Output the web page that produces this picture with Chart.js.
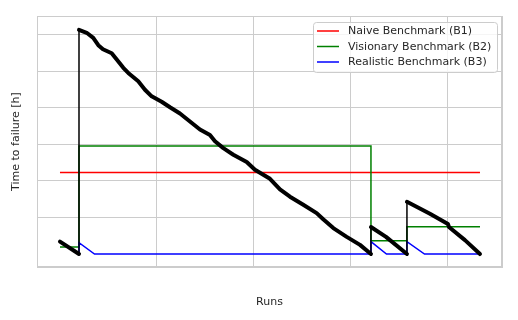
<!DOCTYPE html>
<html>
<head>
<meta charset="utf-8">
<script src="https://cdn.jsdelivr.net/npm/chart.js@4/dist/chart.umd.min.js"></script>
<style>
  html, body { margin: 0; padding: 0; background: #ffffff; }
  #wrap { width: 518px; height: 320px; }
</style>
</head>
<body>
<div id="wrap"><canvas id="c" width="518" height="320"></canvas></div>
<script>
// ---- data ----
const seriesNames = ['Naive Benchmark (B1)', 'Visionary Benchmark (B2)', 'Realistic Benchmark (B3)'];
const seriesColors = ['#ff0000', '#008000', '#0000ff'];

// actual time to failure (black sawtooth)
const ttfRuns = [0, 19.6, 19.6, 27.5, 34.3, 39.5, 44.3, 53.3, 58.5, 65.3, 70.4, 80.7, 87.6, 94.5, 104.8, 113.4, 123.7, 134.0, 144.3, 154.6, 159.8, 168.4, 178.7, 192.5, 201.0, 216.5, 226.8, 237.1, 250.8, 264.6, 271.4, 281.8, 295.6, 309.3, 320.6, 320.6, 336.1, 357.7, 357.7, 381.4, 400, 401, 417.5, 433];
const ttfHours = [0.34, 0, 6.14, 6.06, 5.92, 5.72, 5.61, 5.50, 5.33, 5.10, 4.96, 4.73, 4.50, 4.32, 4.17, 4.02, 3.85, 3.63, 3.41, 3.26, 3.09, 2.90, 2.72, 2.52, 2.31, 2.06, 1.77, 1.57, 1.35, 1.12, 0.95, 0.71, 0.47, 0.25, 0, 0.74, 0.47, 0, 1.43, 1.10, 0.82, 0.74, 0.38, 0];

// B1 naive
const b1Runs = [0, 433];
const b1Hours = [2.23, 2.23];

// B2 visionary
const b2Runs = [0, 19.6, 19.6, 320.6, 320.6, 357.7, 357.7, 433];
const b2Hours = [0.19, 0.19, 2.96, 2.96, 0.36, 0.36, 0.75, 0.75];

// B3 realistic
const b3Runs = [0, 19.6, 19.6, 35.6, 320.6, 320.6, 336.6, 357.7, 357.7, 375.8, 433];
const b3Hours = [0.34, 0, 0.31, 0, 0, 0.34, 0, 0, 0.34, 0, 0];

const xMin = -23.7, xMax = 455.7, xStep = 100;
const yMin = -0.356, yMax = 6.52, yStep = 1;

function pts(xs, ys) { return xs.map((x, i) => ({ x: x, y: ys[i] })); }

const FONT = '"DejaVu Sans", "Liberation Sans", sans-serif';
const TEXT = '#262626';
const GRID = '#cccccc';

const legendAndFrame = {
  id: 'legendAndFrame',
  afterDraw(chart) {
    const ctx = chart.ctx;
    const a = chart.chartArea;
    ctx.save();
    // frame
    ctx.strokeStyle = GRID;
    ctx.lineWidth = 1;
    ctx.strokeRect(Math.round(a.left) + 0.5, Math.round(a.top) + 0.5,
                   Math.round(a.right - a.left) - 1, Math.round(a.bottom - a.top) - 1);
    // legend box
    const bx = 313.5, by = 22.5, bw = 184, bh = 50, r = 3;
    ctx.beginPath();
    ctx.moveTo(bx + r, by);
    ctx.lineTo(bx + bw - r, by);
    ctx.quadraticCurveTo(bx + bw, by, bx + bw, by + r);
    ctx.lineTo(bx + bw, by + bh - r);
    ctx.quadraticCurveTo(bx + bw, by + bh, bx + bw - r, by + bh);
    ctx.lineTo(bx + r, by + bh);
    ctx.quadraticCurveTo(bx, by + bh, bx, by + bh - r);
    ctx.lineTo(bx, by + r);
    ctx.quadraticCurveTo(bx, by, bx + r, by);
    ctx.closePath();
    ctx.fillStyle = 'rgba(255,255,255,0.8)';
    ctx.fill();
    ctx.strokeStyle = GRID;
    ctx.lineWidth = 1;
    ctx.stroke();
    ctx.font = '11px ' + FONT;
    ctx.textBaseline = 'middle';
    ctx.textAlign = 'left';
    seriesNames.forEach((name, i) => {
      const y = 31 + i * 15.5;
      ctx.strokeStyle = seriesColors[i];
      ctx.lineWidth = 1.5;
      ctx.beginPath();
      ctx.moveTo(317, y);
      ctx.lineTo(339, y);
      ctx.stroke();
      ctx.fillStyle = TEXT;
      ctx.fillText(name, 348, y + 0.5);
    });
    ctx.restore();
  }
};

new Chart(document.getElementById('c'), {
  type: 'scatter',
  data: {
    datasets: [
      {
        label: 'Time to failure',
        data: pts(ttfRuns, ttfHours),
        showLine: true,
        borderColor: '#000000',
        backgroundColor: '#000000',
        borderWidth: 4,
        borderCapStyle: 'round',
        borderJoinStyle: 'round',
        pointRadius: 0,
        segment: {
          borderWidth: c => (c.p0.parsed.x === c.p1.parsed.x ? 1.5 : 4)
        },
        order: 0
      },
      {
        label: seriesNames[0],
        data: pts(b1Runs, b1Hours),
        showLine: true,
        borderColor: seriesColors[0],
        borderWidth: 1.5,
        pointRadius: 0,
        order: 3
      },
      {
        label: seriesNames[1],
        data: pts(b2Runs, b2Hours),
        showLine: true,
        borderColor: seriesColors[1],
        borderWidth: 1.5,
        pointRadius: 0,
        order: 2
      },
      {
        label: seriesNames[2],
        data: pts(b3Runs, b3Hours),
        showLine: true,
        borderColor: seriesColors[2],
        borderWidth: 1.5,
        pointRadius: 0,
        order: 1
      }
    ]
  },
  options: {
    responsive: false,
    animation: false,
    devicePixelRatio: 1,
    layout: { padding: { top: 16, right: 16, left: 0, bottom: 0 } },
    plugins: {
      legend: { display: false },
      tooltip: { enabled: false },
      title: { display: false }
    },
    scales: {
      x: {
        type: 'linear',
        min: xMin,
        max: xMax,
        ticks: { display: false, stepSize: xStep },
        grid: { color: GRID, lineWidth: 1, drawTicks: false },
        border: { color: GRID, width: 1 },
        title: {
          display: true,
          text: 'Runs',
          color: TEXT,
          font: { family: FONT, size: 11 },
          padding: { top: 0, bottom: 11 }
        },
        afterFit: s => { s.height = 53; }
      },
      y: {
        type: 'linear',
        min: yMin,
        max: yMax,
        ticks: { display: false, stepSize: yStep },
        grid: { color: GRID, lineWidth: 1, drawTicks: false },
        border: { color: GRID, width: 1 },
        title: {
          display: true,
          text: 'Time to failure [h]',
          color: TEXT,
          font: { family: FONT, size: 11 },
          padding: { top: 10, bottom: 0 }
        },
        afterFit: s => { s.width = 37; }
      }
    }
  },
  plugins: [legendAndFrame]
});
</script>
</body>
</html>
